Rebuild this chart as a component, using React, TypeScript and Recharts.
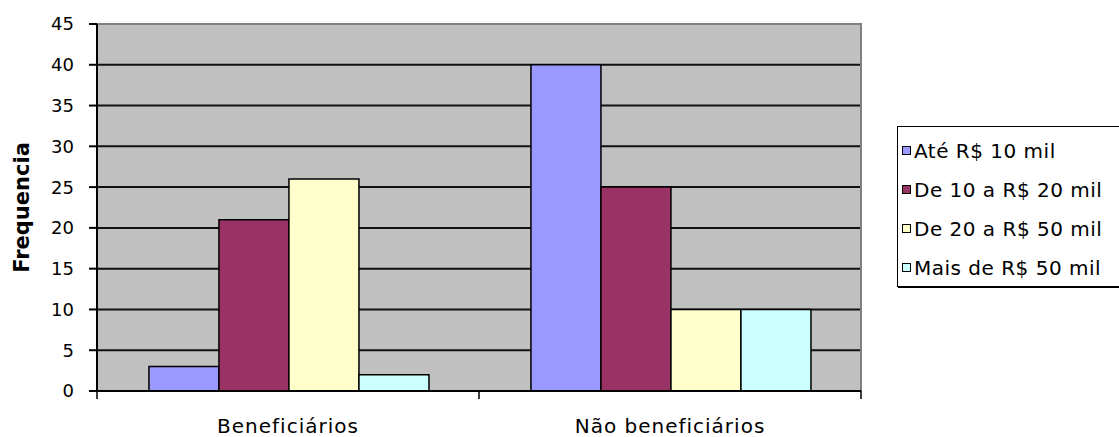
import { BarChart, Bar, XAxis, YAxis, CartesianGrid, ReferenceArea } from 'recharts';

const categories = ['Beneficiários', 'Não beneficiários'];
const ate10 = [3, 40];
const de10a20 = [21, 25];
const de20a50 = [26, 10];
const mais50 = [2, 10];
const seriesNames = ['Até R$ 10 mil', 'De 10 a R$ 20 mil', 'De 20 a R$ 50 mil', 'Mais de R$ 50 mil'];
const yTicks = [0, 5, 10, 15, 20, 25, 30, 35, 40, 45];

const colors = ['#9999FF', '#993366', '#FFFFCC', '#CCFFFF'];
const keys = ['s0', 's1', 's2', 's3'];

const data = categories.map((c, i) => ({
  name: c,
  s0: ate10[i],
  s1: de10a20[i],
  s2: de20a50[i],
  s3: mais50[i],
}));

const W = 1119;
const H = 437;
const LEFT = 97;
const RIGHT = 861;
const TOP = 24;
const BOTTOM = 391;
const X_AXIS_H = 30;
const BAND = (RIGHT - LEFT) / categories.length;
const FONT = '"DejaVu Sans", sans-serif';

function XTick(props: any) {
  const { x, y, payload, index } = props;
  const left = x - BAND / 2;
  return (
    <g>
      <line x1={left} y1={y} x2={left} y2={y + 8} stroke="#000" strokeWidth={1.5} />
      {index === categories.length - 1 && (
        <line x1={left + BAND} y1={y} x2={left + BAND} y2={y + 8} stroke="#000" strokeWidth={1.5} />
      )}
      <text x={x} y={y + 42} textAnchor="middle" fontFamily={FONT} fontSize={20} letterSpacing={1} fill="#000">
        {payload.value}
      </text>
    </g>
  );
}

function YLabel() {
  const cx = 22;
  const cy = (TOP + BOTTOM) / 2;
  return (
    <text
      x={cx}
      y={cy}
      transform={`rotate(-90, ${cx}, ${cy})`}
      textAnchor="middle"
      dominantBaseline="central"
      fontFamily={FONT}
      fontSize={21}
      fontWeight="bold"
      fill="#000"
    >
      Frequencia
    </text>
  );
}

function LegendBox() {
  return (
    <div
      style={{
        position: 'absolute',
        left: 897,
        top: 126,
        border: '1px solid #000',
        boxShadow: '1px 1px 0 #000',
        background: '#fff',
        width: 240,
        height: 161,
        paddingTop: 4,
        boxSizing: 'border-box',
        fontFamily: FONT,
        fontSize: 20,
        letterSpacing: 0.5,
        color: '#000',
      }}
    >
      {seriesNames.map((n, i) => (
        <div key={n} style={{ height: 39, display: 'flex', alignItems: 'center', paddingLeft: 4 }}>
          <span
            style={{
              display: 'inline-block',
              width: 7,
              height: 7,
              background: colors[i],
              border: '1px solid #000',
              marginRight: 3,
            }}
          />
          <span style={{ whiteSpace: 'nowrap' }}>{n}</span>
        </div>
      ))}
    </div>
  );
}

export default function App() {
  return (
    <div style={{ position: 'absolute', left: 0, top: 0, width: W, height: H, background: '#fff', overflow: 'hidden' }}>
      <BarChart
        width={W}
        height={H}
        data={data}
        margin={{ top: TOP, right: W - RIGHT, bottom: H - BOTTOM - X_AXIS_H, left: 0 }}
        barCategoryGap="13.6%"
        barGap={0}
      >
        <CartesianGrid
          vertical={false}
          fill="#C0C0C0"
          stroke="#111"
          strokeWidth={2}
          horizontalValues={[5, 10, 15, 20, 25, 30, 35, 40]}
        />
        <ReferenceArea y1={0} y2={45} fill="none" stroke="#808080" strokeWidth={2} />
        <XAxis
          dataKey="name"
          height={X_AXIS_H}
          tickLine={false}
          tickSize={0}
          tickMargin={0}
          axisLine={{ stroke: '#000', strokeWidth: 2 }}
          tick={<XTick />}
          interval={0}
        />
        <YAxis
          width={LEFT}
          domain={[0, 45]}
          ticks={yTicks}
          interval={0}
          tickSize={8}
          tickMargin={15}
          axisLine={{ stroke: '#000', strokeWidth: 2 }}
          tickLine={{ stroke: '#000', strokeWidth: 2 }}
          tick={{ fill: '#000', fontFamily: FONT, fontSize: 18 }}
          label={<YLabel />}
        />
        {keys.map((k, i) => (
          <Bar
            key={k}
            dataKey={k}
            name={seriesNames[i]}
            fill={colors[i]}
            stroke="#000"
            strokeWidth={1.5}
            isAnimationActive={false}
          />
        ))}
      </BarChart>
      <LegendBox />
    </div>
  );
}
